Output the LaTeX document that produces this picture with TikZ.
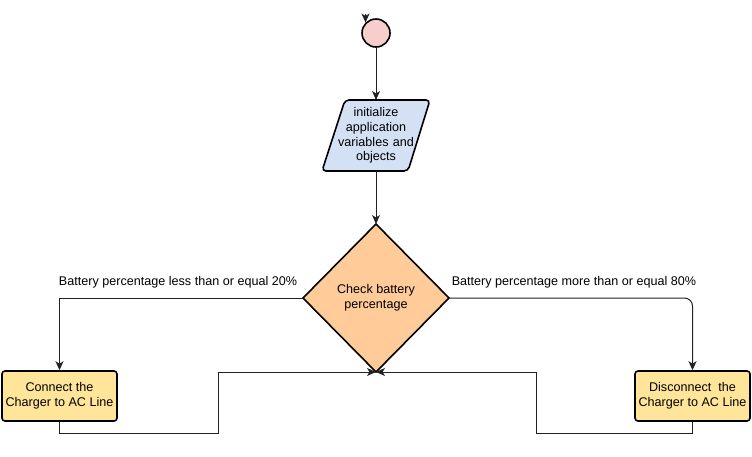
\documentclass[tikz,border=0pt]{standalone}
\usepackage{fontspec}
\setmainfont{Liberation Sans}
\usetikzlibrary{shapes.geometric,arrows.meta}
\definecolor{pinkfill}{HTML}{F8CECC}
\definecolor{bluefill}{HTML}{D4E1F5}
\definecolor{orangefill}{HTML}{FFCC99}
\definecolor{yellowfill}{HTML}{FFE599}
\definecolor{linecol}{HTML}{222222}
\begin{document}
\begin{tikzpicture}[x=1pt,y=-1pt,
  every node/.style={font=\fontsize{12.6}{14.6}\selectfont, inner sep=0pt},
  shapebox/.style={draw=black, line width=1.6pt},
  conn/.style={color=linecol, line width=1pt, -{Stealth[width=8pt,length=9pt,inset=2.5pt]}},
  lbl/.style={anchor=base}]
\useasboundingbox (0,0) rectangle (752,456);
% start circle
\node[shapebox, circle, fill=pinkfill, minimum size=28pt] (start) at (376,33) {};
\coordinate (loopin) at (365.5,14);
\draw[conn] (loopin) -- (start.north west);
% parallelogram
\draw[shapebox, fill=bluefill, rounded corners=4pt] (345,100) -- (430,100) -- (408,171) -- (322,171) -- cycle;
\node[align=center, text width=90pt] (init) at (376,135.5) {initialize\\application\\variables and\\objects};
\coordinate (initT) at (376,100);
\coordinate (initB) at (376,171);
% diamond
\draw[shapebox, fill=orangefill] (376,224) -- (449,298) -- (376,372) -- (303,298) -- cycle;
\node[align=center] (check) at (376,298) {Check battery\\percentage};
\coordinate (dT) at (376,224);
\coordinate (dL) at (303,298);
\coordinate (dR) at (449,298);
\coordinate (dB) at (376,372);
% boxes
\node[shapebox, fill=yellowfill, rounded corners=3pt, minimum width=115pt, minimum height=50pt, align=center] (conn) at (59.5,396) {Connect the\\Charger to AC Line};
\node[shapebox, fill=yellowfill, rounded corners=3pt, minimum width=115pt, minimum height=50pt, align=center] (disc) at (692.5,396) {Disconnect\ \ the\\Charger to AC Line};
% connectors
\draw[conn] (start.south) -- (initT);
\draw[conn] (initB) -- (dT);
\draw[conn] (dL) -| (conn.north);
\draw[conn, rounded corners=8pt] (dR) -| (disc.north);
\draw[conn] (conn.south) |- (218,433) |- (dB);
\draw[conn] (disc.south) |- (536,433) |- (dB);
% labels
\node[lbl] (lblL) at (178,285) {Battery percentage less than or equal 20\%};
\node[lbl] (lblR) at (574,285) {Battery percentage more than or equal 80\%};
\end{tikzpicture}
\end{document}
